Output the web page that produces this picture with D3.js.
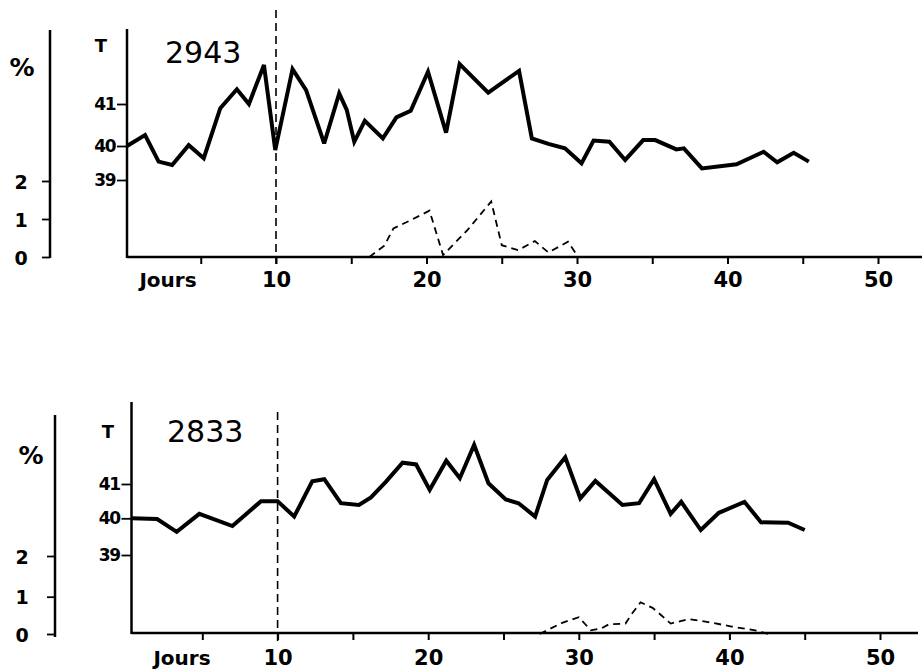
<!DOCTYPE html>
<html>
<head>
<meta charset="utf-8">
<script src="https://cdn.jsdelivr.net/npm/d3@7"></script>
<style>
  body { margin: 0; background: #fff; }
  svg { display: block; }
</style>
</head>
<body>
<div id="chart"></div>
<script>
// Tick values shared by both panels
const xTicks = [5, 10, 15, 20, 25, 30, 35, 40, 45, 50];
const tTicks = [39, 40, 41];
const pctTicks = [0, 1, 2];

// Animal 2943 : temperature (day, °C) and percentage (day, %)
const temp2943 = [
  [0.1, 40.0], [1.3, 40.26], [2.2, 39.54], [3.1, 39.44], [4.2, 40.02], [5.2, 39.64],
  [6.3, 40.9], [7.4, 41.35], [8.2, 41.0], [9.2, 41.93], [9.95, 39.88], [11.1, 41.83],
  [12.0, 41.33], [13.2, 40.06], [14.2, 41.25], [14.7, 40.86], [15.2, 40.1], [15.9, 40.6],
  [17.1, 40.18], [18.0, 40.68], [18.95, 40.84], [20.1, 41.77], [21.3, 40.32], [22.2, 41.95],
  [24.1, 41.27], [26.15, 41.79], [27.0, 40.18], [28.1, 40.05], [29.2, 39.93], [30.3, 39.49],
  [31.1, 40.13], [32.15, 40.1], [33.2, 39.59], [34.4, 40.14], [35.2, 40.14], [36.6, 39.9],
  [37.1, 39.93], [38.3, 39.34], [40.6, 39.46], [42.4, 39.83], [43.3, 39.52], [44.4, 39.8],
  [45.4, 39.54]
];
const pct2943 = [
  [16.2, 0], [17.2, 0.3], [17.8, 0.75], [18.9, 0.96], [20.2, 1.22], [21.1, 0.05],
  [22.7, 0.7], [24.3, 1.46], [25.0, 0.31], [26.1, 0.18], [27.2, 0.42], [28.1, 0.12],
  [29.4, 0.4], [30.0, 0.05]
];

// Animal 2833
const temp2833 = [
  [0.3, 40.0], [2.0, 39.98], [3.3, 39.63], [4.8, 40.13], [7.0, 39.79], [8.9, 40.5],
  [10.0, 40.5], [11.1, 40.05], [12.3, 41.08], [13.1, 41.14], [14.2, 40.44], [15.4, 40.39],
  [16.2, 40.61], [17.2, 41.07], [18.3, 41.62], [19.2, 41.57], [20.1, 40.83], [21.2, 41.68],
  [22.1, 41.17], [23.05, 42.14], [24.0, 41.02], [25.15, 40.55], [26.0, 40.44], [27.1, 40.05],
  [27.9, 41.12], [29.1, 41.78], [30.1, 40.58], [31.1, 41.09], [32.9, 40.39], [34.0, 40.44],
  [35.0, 41.14], [36.1, 40.13], [36.8, 40.48], [38.1, 39.68], [39.3, 40.16], [41.0, 40.48],
  [42.1, 39.89], [43.9, 39.88], [45.0, 39.68]
];
const pct2833 = [
  [27.4, 0], [28.9, 0.3], [30.0, 0.45], [30.8, 0.1], [31.5, 0.15], [32.0, 0.26],
  [33.1, 0.28], [33.5, 0.53], [34.1, 0.85], [34.9, 0.7], [35.4, 0.53], [36.1, 0.28],
  [37.3, 0.4], [38.6, 0.32], [40.15, 0.2], [41.7, 0.1], [42.6, 0]
];

// Panel layout (pixel positions of the hand-drawn axes)
const panels = [
  { name: "2943", temp: temp2943, pct: pct2943,
    xRange: [125.5, 878], axisY: 257, xEnd: 922,
    tAxisX: 127, tTop: 29, tRange: [180, 146, 104],
    pctAxisX: 50, pctTop: 30, pctBottom: 258, pctRange: [257, 219, 181],
    vTop: 10, vBottom: 264, nameX: 165, nameY: 63,
    tX: 101, tY: 52, pctX: 22, pctY: 76, labelY: 287, joursX: 168, pctLabX: 21 },
  { name: "2833", temp: temp2833, pct: pct2833,
    xRange: [127, 880], axisY: 633, xEnd: 918,
    tAxisX: 131.5, tTop: 402, tRange: [555, 518.3, 484],
    pctAxisX: 55, pctTop: 415, pctBottom: 637, pctRange: [634, 596.7, 556],
    vTop: 412, vBottom: 645, nameX: 167, nameY: 442,
    tX: 108, tY: 438, pctX: 31, pctY: 464, labelY: 665, joursX: 182, pctLabX: 22 }
];

const width = 924, height = 669;
const svg = d3.select("#chart").append("svg")
  .attr("width", width)
  .attr("height", height)
  .style("background", "#fff");

const boldFont = "DejaVu Sans";

panels.forEach(p => {
  const g = svg.append("g");

  const x = d3.scaleLinear().domain([0, 50]).range(p.xRange);
  // piecewise scales follow the uneven spacing of the drawn ticks
  const yT = d3.scaleLinear().domain(tTicks).range(p.tRange);
  const yP = d3.scaleLinear().domain(pctTicks).range(p.pctRange);

  // x axis
  const xAxis = g.append("g")
    .attr("transform", `translate(0, ${p.axisY})`)
    .call(d3.axisBottom(x)
      .tickValues(xTicks)
      .tickSize(7)
      .tickFormat(d => d % 10 === 0 ? d : ""));
  xAxis.select(".domain").remove();
  xAxis.selectAll("line").attr("stroke", "#000").attr("stroke-width", 2);
  xAxis.selectAll("text")
    .attr("font-family", boldFont)
    .attr("font-weight", "bold")
    .attr("font-size", 21)
    .attr("fill", "#000")
    .attr("y", p.labelY - p.axisY)
    .attr("dy", 0);
  g.append("line")
    .attr("x1", p.tAxisX).attr("x2", p.xEnd)
    .attr("y1", p.axisY).attr("y2", p.axisY)
    .attr("stroke", "#000").attr("stroke-width", 2.5);

  g.append("text")
    .attr("x", p.joursX).attr("y", p.labelY)
    .attr("text-anchor", "middle")
    .attr("font-family", boldFont).attr("font-weight", "bold")
    .attr("font-size", 20)
    .text("Jours");

  // temperature axis
  const tAxis = g.append("g")
    .attr("transform", `translate(${p.tAxisX}, 0)`)
    .call(d3.axisLeft(yT).tickValues(tTicks).tickSize(10).tickPadding(2)
      .tickFormat(d3.format("d")));
  tAxis.select(".domain").remove();
  tAxis.selectAll("line").attr("stroke", "#000").attr("stroke-width", 1.8);
  tAxis.selectAll("text")
    .attr("font-family", boldFont).attr("font-weight", "bold")
    .attr("font-size", 17).attr("fill", "#000")
    .attr("letter-spacing", -1.5);
  g.append("line")
    .attr("x1", p.tAxisX).attr("x2", p.tAxisX)
    .attr("y1", p.tTop).attr("y2", p.axisY + 1)
    .attr("stroke", "#000").attr("stroke-width", 2.5);
  g.append("text")
    .attr("x", p.tX).attr("y", p.tY)
    .attr("text-anchor", "middle")
    .attr("font-family", boldFont).attr("font-weight", "bold")
    .attr("font-size", 18)
    .text("T");

  // percentage axis
  const pAxis = g.append("g")
    .attr("transform", `translate(${p.pctAxisX}, 0)`)
    .call(d3.axisLeft(yP).tickValues(pctTicks).tickSize(8).tickFormat(""));
  pAxis.select(".domain").remove();
  pAxis.selectAll("line").attr("stroke", "#000").attr("stroke-width", 1.8);
  g.append("line")
    .attr("x1", p.pctAxisX).attr("x2", p.pctAxisX)
    .attr("y1", p.pctTop).attr("y2", p.pctBottom)
    .attr("stroke", "#000").attr("stroke-width", 2.5);
  g.selectAll(".pctlab")
    .data(pctTicks)
    .enter().append("text")
    .attr("x", p.pctLabX)
    .attr("y", d => yP(d))
    .attr("dy", "0.4em")
    .attr("text-anchor", "middle")
    .attr("font-family", boldFont).attr("font-weight", "bold")
    .attr("font-size", 19)
    .text(d => d);
  g.append("text")
    .attr("x", p.pctX).attr("y", p.pctY)
    .attr("text-anchor", "middle")
    .attr("font-family", boldFont).attr("font-weight", "bold")
    .attr("font-size", 25)
    .text("%");

  // animal number
  g.append("text")
    .attr("x", p.nameX).attr("y", p.nameY)
    .attr("font-family", "DejaVu Sans")
    .attr("font-size", 30)
    .text(p.name);

  // day 10 marker
  g.append("line")
    .attr("x1", x(10)).attr("x2", x(10))
    .attr("y1", p.vTop).attr("y2", p.vBottom)
    .attr("stroke", "#000").attr("stroke-width", 1.6)
    .attr("stroke-dasharray", "8,5");

  // temperature curve
  const lineT = d3.line().x(d => x(d[0])).y(d => yT(d[1]));
  g.append("path")
    .attr("d", lineT(p.temp))
    .attr("fill", "none")
    .attr("stroke", "#000")
    .attr("stroke-width", 4)
    .attr("stroke-linejoin", "miter")
    .attr("stroke-miterlimit", 3);

  // percentage curve
  const lineP = d3.line().x(d => x(d[0])).y(d => yP(d[1]));
  g.append("path")
    .attr("d", lineP(p.pct))
    .attr("fill", "none")
    .attr("stroke", "#000")
    .attr("stroke-width", 1.8)
    .attr("stroke-dasharray", "7,5");
});
</script>
</body>
</html>
